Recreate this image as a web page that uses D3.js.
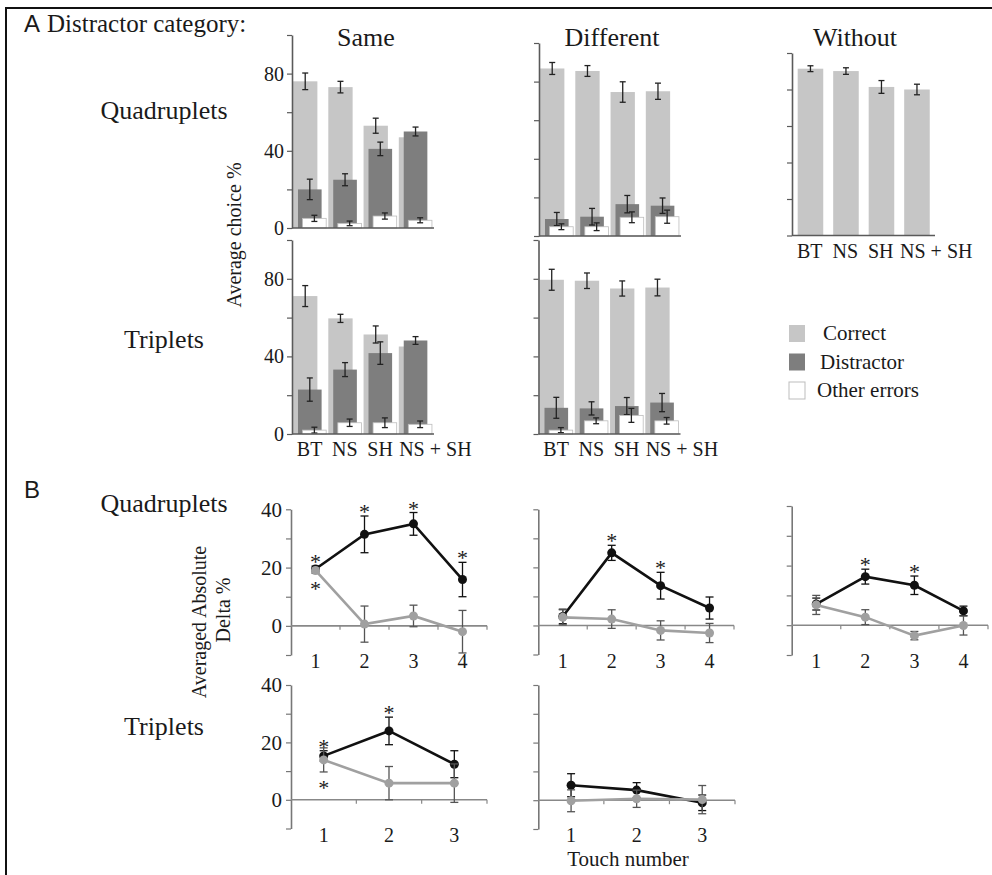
<!DOCTYPE html>
<html>
<head>
<meta charset="utf-8">
<script src="https://cdn.jsdelivr.net/npm/d3@7"></script>
<style>
body { margin: 0; background: #fff; }
text { font-family: "Liberation Serif", "Times New Roman", serif; fill: #1a1a1a; }
</style>
</head>
<body>
<svg id="fig" width="992" height="875"></svg>
<script>
// ---- data: panel A (average choice %) ----
const barCategories = ["BT", "NS", "SH", "NS + SH"];

const sameQuadCorrect = [76, 73, 53, 47];
const sameQuadCorrectErr = [4.3, 3.0, 3.9, 0];
const sameQuadDistractor = [20, 25, 41, 50];
const sameQuadDistractorErr = [5.3, 3.1, 3.5, 2.3];
const sameQuadOther = [5, 2.4, 6.2, 4];
const sameQuadOtherErr = [1.6, 1.2, 1.6, 1.3];

const diffQuadCorrect = [86.8, 85.5, 74.6, 75];
const diffQuadCorrectErr = [3.1, 2.8, 5.3, 4.2];
const diffQuadDistractor = [8.8, 10, 16.5, 15.7];
const diffQuadDistractorErr = [3.4, 4.3, 4.5, 4.0];
const diffQuadOther = [4.8, 4.8, 9.7, 10];
const diffQuadOtherErr = [1.5, 2.0, 2.8, 3.4];

const withoutQuadCorrect = [91.4, 90.1, 81.4, 80];
const withoutQuadCorrectErr = [1.6, 1.8, 3.5, 2.9];

const sameTripCorrect = [71.1, 59.6, 51.3, 45.1];
const sameTripCorrectErr = [5.4, 2.1, 4.4, 0];
const sameTripDistractor = [22.9, 33.2, 41.7, 48.2];
const sameTripDistractorErr = [6.0, 3.6, 5.8, 2.0];
const sameTripOther = [2, 5.8, 5.8, 5];
const sameTripOtherErr = [1.5, 1.9, 2.5, 1.7];

const diffTripCorrect = [79.5, 79, 75, 75.5];
const diffTripCorrectErr = [5.4, 4.0, 3.9, 4.3];
const diffTripDistractor = [13.5, 13.2, 14.4, 16.2];
const diffTripDistractorErr = [5.4, 3.4, 4.4, 4.7];
const diffTripOther = [2, 6.8, 9.6, 6.8];
const diffTripOtherErr = [1.3, 1.5, 3.6, 1.7];

const legendLabels = ["Correct", "Distractor", "Other errors"];

// ---- data: panel B (averaged absolute delta %) ----
const touchQuad = ["1", "2", "3", "4"];
const touchTrip = ["1", "2", "3"];

const sameQuadBlack = [19.5, 31.4, 35, 15.9];
const sameQuadBlackErr = [1, 6.3, 3.9, 5.9];
const sameQuadGray = [19, 0.6, 3.4, -2];
const sameQuadGrayErr = [1, 6.2, 3.7, 7.3];
const sameQuadStarBlack = [1, 1, 1, 1];
const sameQuadStarGray = [1, 0, 0, 0];

const diffQuadBlack = [3.1, 25, 13.7, 6];
const diffQuadBlackErr = [2.5, 2.6, 4.6, 3.8];
const diffQuadGray = [2.8, 2.2, -1.7, -2.6];
const diffQuadGrayErr = [2.6, 3.2, 3.3, 3.3];
const diffQuadStarBlack = [0, 1, 1, 0];

const withoutQuadBlack = [7.1, 16.3, 13.4, 4.8];
const withoutQuadBlackErr = [2, 2.5, 3.1, 1.6];
const withoutQuadGray = [6.8, 2.7, -3.5, -0.1];
const withoutQuadGrayErr = [3.2, 2.5, 1.4, 3.2];
const withoutQuadStarBlack = [0, 1, 1, 0];

const sameTripBlack = [15.3, 24, 12.4];
const sameTripBlackErr = [1.8, 4.8, 4.7];
const sameTripGray = [13.9, 5.8, 5.8];
const sameTripGrayErr = [4.2, 5.8, 6.7];
const sameTripStarBlack = [1, 1, 0];
const sameTripStarGray = [1, 0, 0];

const diffTripBlack = [5.2, 3.5, -0.9];
const diffTripBlackErr = [4, 2.6, 2.7];
const diffTripGray = [-0.2, 0.5, 0.2];
const diffTripGrayErr = [3.8, 3, 4.9];

// ---- styles ----
const LIGHT = "#c6c6c6", DARK = "#7e7e7e", AXIS = "#5a5a5a";
const svg = d3.select("#fig");

// frame
svg.append("rect").attr("x", 6).attr("y", 8).attr("width", 1000).attr("height", 900)
  .attr("fill", "none").attr("stroke", "#111").attr("stroke-width", 2);

function errBar(g, cx, y, v, e, color, cap) {
  if (!e) return;
  g.append("line").attr("x1", cx).attr("x2", cx).attr("y1", y(v + e)).attr("y2", y(v - e))
    .attr("stroke", color).attr("stroke-width", 1.3);
  [v + e, v - e].forEach(t => {
    g.append("line").attr("x1", cx - cap).attr("x2", cx + cap).attr("y1", y(t)).attr("y2", y(t))
      .attr("stroke", color).attr("stroke-width", 1.3);
  });
}

// bar panel (panel A)
function barPanel(p) {
  const x = d3.scaleBand().domain(barCategories).range([p.left, p.left + p.width]);
  const y = d3.scaleLinear().domain([0, 100]).range([p.zero, p.top]);
  const bw = x.bandwidth();
  const g = svg.append("g");

  p.series.forEach(s => {
    s.vals.forEach((v, i) => {
      const bx = x(barCategories[i]) + s.off * bw, w = s.w * bw;
      g.append("rect").attr("x", bx).attr("y", y(v)).attr("width", w).attr("height", y(0) - y(v))
        .attr("fill", s.fill).attr("stroke", s.stroke || "none").attr("stroke-width", 0.8);
      errBar(g, bx + w / 2, y, v, s.errs[i], "#222", 3);
    });
  });

  const ax = d3.axisLeft(y).tickValues([0, 20, 40, 60, 80, 100]).tickSize(5).tickSizeOuter(0).tickPadding(3)
    .tickFormat(d => (p.labels && [0, 40, 80].includes(d)) ? d : "");
  const ga = g.append("g").attr("transform", `translate(${p.left},0)`).call(ax).attr("font-size", 20);
  ga.select(".domain").attr("stroke", AXIS).attr("stroke-width", 1.6);
  ga.selectAll(".tick line").attr("stroke", AXIS).attr("stroke-width", 1.2);

  g.append("line").attr("x1", p.left).attr("x2", p.left + p.width + 1).attr("y1", y(0)).attr("y2", y(0))
    .attr("stroke", AXIS).attr("stroke-width", 1.6);

  if (p.xlabels) {
    barCategories.forEach((c, i) => {
      g.append("text").attr("x", x(c) + bw / 2 + (i === 3 ? 20 : 0)).attr("y", y(0) + 22)
        .attr("text-anchor", "middle").attr("font-size", 20).text(c);
    });
  }
}

function clustered(corr, corrErr, dis, disErr, oth, othErr) {
  return [
    { vals: corr, errs: corrErr, fill: LIGHT, off: 0.03, w: 0.69 },
    { vals: dis, errs: disErr, fill: DARK, off: 0.17, w: 0.67 },
    { vals: oth, errs: othErr, fill: "#fff", stroke: "#bdbdbd", off: 0.3, w: 0.67 }
  ];
}

barPanel({ left: 292, width: 141, zero: 228, top: 35, labels: true, xlabels: false,
  series: clustered(sameQuadCorrect, sameQuadCorrectErr, sameQuadDistractor, sameQuadDistractorErr, sameQuadOther, sameQuadOtherErr) });
barPanel({ left: 539, width: 141, zero: 236, top: 43, labels: false, xlabels: false,
  series: clustered(diffQuadCorrect, diffQuadCorrectErr, diffQuadDistractor, diffQuadDistractorErr, diffQuadOther, diffQuadOtherErr) });
barPanel({ left: 792, width: 142, zero: 235.5, top: 53, labels: false, xlabels: true,
  series: [{ vals: withoutQuadCorrect, errs: withoutQuadCorrectErr, fill: LIGHT, off: 0.16, w: 0.72 }] });
barPanel({ left: 292, width: 141, zero: 434, top: 240, labels: true, xlabels: true,
  series: clustered(sameTripCorrect, sameTripCorrectErr, sameTripDistractor, sameTripDistractorErr, sameTripOther, sameTripOtherErr) });
barPanel({ left: 538.5, width: 141, zero: 434, top: 240, labels: false, xlabels: true,
  series: clustered(diffTripCorrect, diffTripCorrectErr, diffTripDistractor, diffTripDistractorErr, diffTripOther, diffTripOtherErr) });

// legend
const legendFill = [LIGHT, DARK, "#fff"];
legendLabels.forEach((l, i) => {
  svg.append("rect").attr("x", 789).attr("y", 325 + i * 28.5).attr("width", 16).attr("height", 17)
    .attr("fill", legendFill[i]).attr("stroke", i === 2 ? "#bdbdbd" : "none");
  svg.append("text").attr("x", 823 - i * 3).attr("y", 340 + i * 28.5).attr("font-size", 21).text(l);
});

// line panel (panel B)
function linePanel(p) {
  const x = d3.scaleBand().domain(p.cats).range([p.left, p.right]);
  const y = d3.scaleLinear().domain([-10, 40]).range([p.bottom, p.top]);
  const bw = x.bandwidth();
  const cx = c => x(c) + bw / 2;
  const g = svg.append("g");

  const ax = d3.axisLeft(y).tickValues([-10, 0, 10, 20, 30, 40]).tickSize(5).tickSizeOuter(0).tickPadding(4)
    .tickFormat(d => (p.labels && [0, 20, 40].includes(d)) ? d : "");
  const ga = g.append("g").attr("transform", `translate(${p.left},0)`).call(ax).attr("font-size", 21);
  ga.select(".domain").attr("stroke", "#777").attr("stroke-width", 1.6);
  ga.selectAll(".tick line").attr("stroke", "#777").attr("stroke-width", 1.2);

  g.append("line").attr("x1", p.left).attr("x2", p.right).attr("y1", y(0)).attr("y2", y(0))
    .attr("stroke", "#888").attr("stroke-width", 1.6);
  p.cats.forEach(c => {
    g.append("line").attr("x1", x(c) + bw).attr("x2", x(c) + bw).attr("y1", y(0)).attr("y2", y(0) + 4)
      .attr("stroke", "#888").attr("stroke-width", 1.2);
    g.append("text").attr("x", cx(c)).attr("y", p.bottom + 13).attr("text-anchor", "middle")
      .attr("font-size", 20).text(c);
  });

  const line = d3.line().x((d, i) => cx(p.cats[i])).y(d => y(d));
  p.series.forEach(s => {
    s.vals.forEach((v, i) => errBar(g, cx(p.cats[i]), y, v, s.errs[i], s.errColor, 4));
    g.append("path").datum(s.vals).attr("d", line).attr("fill", "none")
      .attr("stroke", s.color).attr("stroke-width", 2.6);
    g.selectAll(null).data(s.vals).enter().append("circle")
      .attr("cx", (d, i) => cx(p.cats[i])).attr("cy", d => y(d)).attr("r", 4.5).attr("fill", s.color);
    if (s.starsTop) s.starsTop.forEach((f, i) => {
      if (f) g.append("text").attr("x", cx(p.cats[i])).attr("y", y(s.vals[i] + s.errs[i]) - 9 + 12)
        .attr("text-anchor", "middle").attr("font-size", 22).attr("fill", "#333").text("*");
    });
    if (s.starsBottom) s.starsBottom.forEach((f, i) => {
      if (f) g.append("text").attr("x", cx(p.cats[i])).attr("y", y(s.vals[i] - s.errs[i]) + 11 + 12)
        .attr("text-anchor", "middle").attr("font-size", 22).attr("fill", "#333").text("*");
    });
  });
}

function pair(b, be, gr, ge, st, sg) {
  return [
    { vals: b, errs: be, color: "#111", errColor: "#111", starsTop: st },
    { vals: gr, errs: ge, color: "#a0a0a0", errColor: "#555", starsBottom: sg }
  ];
}

linePanel({ cats: touchQuad, left: 291, right: 487, top: 509.3, bottom: 655, labels: true,
  series: pair(sameQuadBlack, sameQuadBlackErr, sameQuadGray, sameQuadGrayErr, sameQuadStarBlack, sameQuadStarGray) });
linePanel({ cats: touchQuad, left: 538.3, right: 734, top: 509.3, bottom: 654.5, labels: false,
  series: pair(diffQuadBlack, diffQuadBlackErr, diffQuadGray, diffQuadGrayErr, diffQuadStarBlack, null) });
linePanel({ cats: touchQuad, left: 791.7, right: 988, top: 506, bottom: 655, labels: false,
  series: pair(withoutQuadBlack, withoutQuadBlackErr, withoutQuadGray, withoutQuadGrayErr, withoutQuadStarBlack, null) });
linePanel({ cats: touchTrip, left: 291, right: 487, top: 685, bottom: 828.5, labels: true,
  series: pair(sameTripBlack, sameTripBlackErr, sameTripGray, sameTripGrayErr, sameTripStarBlack, sameTripStarGray) });
linePanel({ cats: touchTrip, left: 538.3, right: 735, top: 685, bottom: 829, labels: false,
  series: pair(diffTripBlack, diffTripBlackErr, diffTripGray, diffTripGrayErr, null, null) });

// text labels
svg.append("text").attr("x", 24).attr("y", 32).attr("font-size", 24)
  .style("font-family", "'Liberation Sans', Arial, sans-serif").text("A");
svg.append("text").attr("x", 47).attr("y", 32).attr("font-size", 25).text("Distractor category:");
svg.append("text").attr("x", 24).attr("y", 498).attr("font-size", 24)
  .style("font-family", "'Liberation Sans', Arial, sans-serif").text("B");

[["Same", 366], ["Different", 612], ["Without", 855]].forEach(([t, cx]) => {
  svg.append("text").attr("x", cx).attr("y", 46).attr("text-anchor", "middle").attr("font-size", 26).text(t);
});
[["Quadruplets", 119], ["Triplets", 348], ["Quadruplets", 512], ["Triplets", 735]].forEach(([t, yy]) => {
  svg.append("text").attr("x", 164).attr("y", yy).attr("text-anchor", "middle").attr("font-size", 26).text(t);
});

svg.append("text").attr("transform", "translate(241,235) rotate(-90)").attr("text-anchor", "middle")
  .attr("font-size", 20).text("Average choice %");
svg.append("text").attr("transform", "translate(206,622) rotate(-90)").attr("text-anchor", "middle")
  .attr("font-size", 20).text("Averaged Absolute");
svg.append("text").attr("transform", "translate(230,610) rotate(-90)").attr("text-anchor", "middle")
  .attr("font-size", 20).text("Delta %");
svg.append("text").attr("x", 628).attr("y", 866).attr("text-anchor", "middle").attr("font-size", 21).text("Touch number");
</script>
</body>
</html>
